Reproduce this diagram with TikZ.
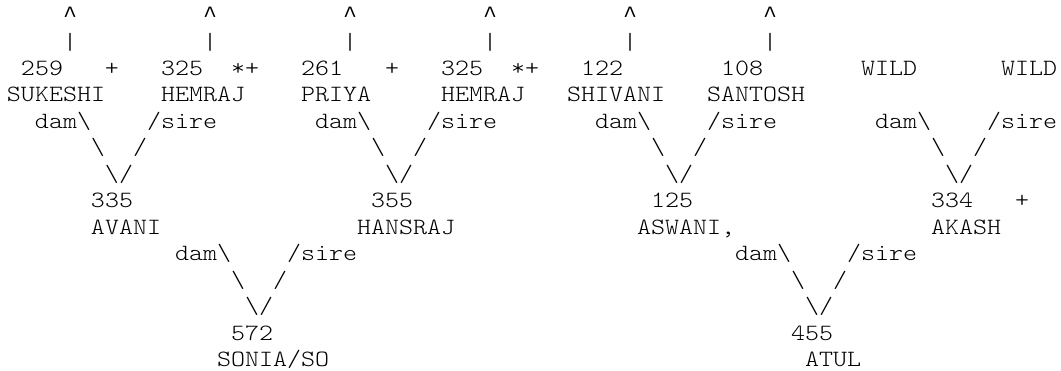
\documentclass[tikz,border=0pt]{standalone}
\usepackage{fontspec}
\setmonofont[FakeStretch=1.1429]{Latin Modern Mono Light}
\newfontfamily\caretfont{Liberation Mono}
\newcommand{\pedfont}{\ttfamily\fontsize{17.5pt}{19.84pt}\selectfont}
\tikzset{cell/.style={anchor=base west, inner sep=0pt, outer sep=0pt, font=\pedfont}}

\begin{document}
\begin{tikzpicture}[x=10.5pt, y=-19.8375pt]
\useasboundingbox (-0.5,0.1455) rectangle (75.2857,14.172);
% founders: arrows up
\foreach \c in {4,14,24,34,44,54}{
  \node[cell] (up\c) at (\c,1) {\caretfont\textasciicircum};
  \node[cell] (bar\c) at (\c,2) {|};
}
% top row of parents
\node[cell] (n259) at (1,3) {259};
\node[cell] (p259) at (7,3) {+};
\node[cell] (n325a) at (11,3) {325};
\node[cell] (p325a) at (16,3) {*+};
\node[cell] (n261) at (21,3) {261};
\node[cell] (p261) at (27,3) {+};
\node[cell] (n325b) at (31,3) {325};
\node[cell] (p325b) at (36,3) {*+};
\node[cell] (n122) at (41,3) {122};
\node[cell] (n108) at (51,3) {108};
\node[cell] (wilda) at (61,3) {WILD};
\node[cell] (wildb) at (71,3) {WILD};
\node[cell] (sukeshi) at (0,4) {SUKESHI};
\node[cell] (hemraja) at (11,4) {HEMRAJ};
\node[cell] (priya) at (21,4) {PRIYA};
\node[cell] (hemrajb) at (31,4) {HEMRAJ};
\node[cell] (shivani) at (40,4) {SHIVANI};
\node[cell] (santosh) at (50,4) {SANTOSH};
% first generation links
\foreach \c in {0,20,40,60}{
  \node[cell] (dam\c) at (\c+2,5) {dam\textbackslash};
  \node[cell] (sire\c) at (\c+10,5) {/sire};
  \node[cell] (dl\c) at (\c+6,6) {\textbackslash};
  \node[cell] (sl\c) at (\c+9,6) {/};
  \node[cell] (vee\c) at (\c+7,7) {\textbackslash/};
}
% middle row
\node[cell] (n335) at (6,8) {335};
\node[cell] (n355) at (26,8) {355};
\node[cell] (n125) at (46,8) {125};
\node[cell] (n334) at (66,8) {334};
\node[cell] (p334) at (72,8) {+};
\node[cell] (avani) at (6,9) {AVANI};
\node[cell] (hansraj) at (25,9) {HANSRAJ};
\node[cell] (aswani) at (45,9) {ASWANI,};
\node[cell] (akash) at (66,9) {AKASH};
% second generation links
\foreach \c in {10,50}{
  \node[cell] (dam\c) at (\c+2,10) {dam\textbackslash};
  \node[cell] (sire\c) at (\c+10,10) {/sire};
  \node[cell] (dl\c) at (\c+6,11) {\textbackslash};
  \node[cell] (sl\c) at (\c+9,11) {/};
  \node[cell] (vee\c) at (\c+7,12) {\textbackslash/};
}
% offspring
\node[cell] (n572) at (16,13) {572};
\node[cell] (n455) at (56,13) {455};
\node[cell] (sonia) at (15,14) {SONIA/SO};
\node[cell] (atul) at (57,14) {ATUL};
\end{tikzpicture}
\end{document}
